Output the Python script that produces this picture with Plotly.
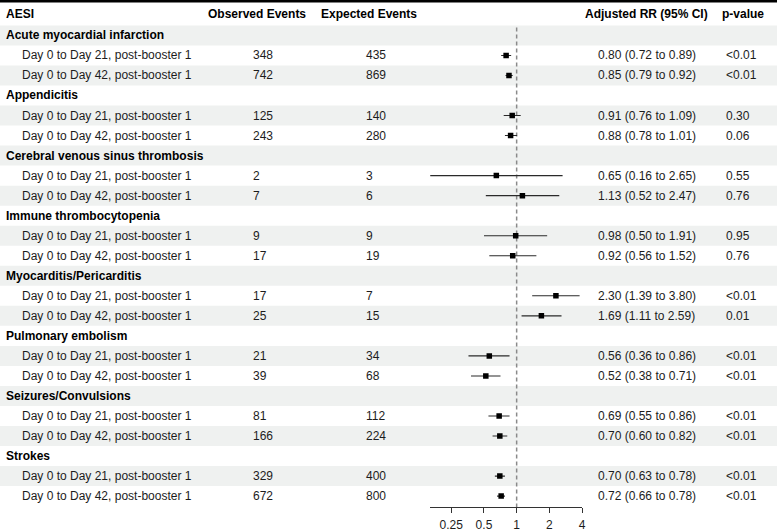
import plotly.graph_objects as go

groups = ["Acute myocardial infarction", "Appendicitis", "Cerebral venous sinus thrombosis",
          "Immune thrombocytopenia", "Myocarditis/Pericarditis", "Pulmonary embolism",
          "Seizures/Convulsions", "Strokes"]
periods = ["Day 0 to Day 21, post-booster 1", "Day 0 to Day 42, post-booster 1"]
observed = [348, 742, 125, 243, 2, 7, 9, 17, 17, 25, 21, 39, 81, 166, 329, 672]
expected = [435, 869, 140, 280, 3, 6, 9, 19, 7, 15, 34, 68, 112, 224, 400, 800]
rr = [0.80, 0.85, 0.91, 0.88, 0.65, 1.13, 0.98, 0.92, 2.30, 1.69, 0.56, 0.52, 0.69, 0.70, 0.70, 0.72]
lo = [0.72, 0.79, 0.76, 0.78, 0.16, 0.52, 0.50, 0.56, 1.39, 1.11, 0.36, 0.38, 0.55, 0.60, 0.63, 0.66]
hi = [0.89, 0.92, 1.09, 1.01, 2.65, 2.47, 1.91, 1.52, 3.80, 2.59, 0.86, 0.71, 0.86, 0.82, 0.78, 0.78]
pval = ["<0.01", "<0.01", "0.30", "0.06", "0.55", "0.76", "0.95", "0.76",
        "<0.01", "0.01", "<0.01", "<0.01", "<0.01", "<0.01", "<0.01", "<0.01"]
headers = ["AESI", "Observed Events", "Expected Events", "Adjusted RR (95% CI)", "p-value"]
tick_vals = [0.25, 0.5, 1, 2, 4]
tick_text = ["0.25", "0.5", "1", "2", "4"]

W, H = 783, 532
FONT = "Liberation Sans, Arial, sans-serif"
TXT = "#1c1c1c"
FS = 12

n_rows = len(groups) * 3
row_h = 20.26
row0 = 35.8
axis_px = 512.7
y_top = -row0 / row_h
y_bot = (axis_px - row0) / row_h
header_y = (14 - row0) / row_h

def px(x):
    return x / W

fig = go.Figure()

shapes = []
for i in range(n_rows):
    if i % 2 == 0:
        shapes.append(dict(type="rect", xref="paper", yref="y", x0=0, x1=px(781),
                           y0=i - 0.5, y1=i + 0.5, fillcolor="#eff1f0",
                           line=dict(width=0), layer="below"))
shapes.append(dict(type="line", xref="paper", yref="paper", x0=0, x1=px(781),
                   y0=1 - 1.3 / H, y1=1 - 1.3 / H, line=dict(color="#000", width=2.5)))

ann = []
col_hdr_x = [4, 207, 321, 586, 724]
for h, x in zip(headers, col_hdr_x):
    ann.append(dict(text="<b>%s</b>" % h, x=px(x), y=header_y, xref="paper", yref="y",
                    xanchor="left", yanchor="middle", showarrow=False,
                    font=dict(family=FONT, size=FS, color="#000")))

ys, seg_x, seg_y = [], [], []
k = 0
for g, name in enumerate(groups):
    gi = 3 * g
    ann.append(dict(text="<b>%s</b>" % name, x=px(4), y=gi, xref="paper", yref="y",
                    xanchor="left", yanchor="middle", showarrow=False,
                    font=dict(family=FONT, size=FS, color="#000")))
    for p, per in enumerate(periods):
        ri = gi + 1 + p
        ys.append(ri)
        vals = [(per, 20), (str(observed[k]), 252), (str(expected[k]), 366),
                ("%.2f (%.2f to %.2f)" % (rr[k], lo[k], hi[k]), 599), (pval[k], 728)]
        for t, x in vals:
            ann.append(dict(text=t, x=px(x), y=ri, xref="paper", yref="y",
                            xanchor="left", yanchor="middle", showarrow=False,
                            font=dict(family=FONT, size=FS, color=TXT)))
        seg_x += [lo[k], hi[k], None]
        seg_y += [ri, ri, None]
        k += 1

fig.add_trace(go.Scatter(x=[1, 1], y=[-0.39, y_bot], mode="lines",
                         line=dict(color="#8a8a8a", width=1.5, dash="4px,3px"),
                         hoverinfo="skip", showlegend=False))
fig.add_trace(go.Scatter(x=seg_x, y=seg_y, mode="lines",
                         line=dict(color="#2a2a2a", width=1.1),
                         hoverinfo="skip", showlegend=False))
fig.add_trace(go.Scatter(x=rr, y=ys, mode="markers",
                         marker=dict(symbol="square", size=5.5, color="#000"),
                         showlegend=False))

fig.update_layout(
    width=W, height=H, margin=dict(l=0, r=0, t=0, b=0),
    paper_bgcolor="white", plot_bgcolor="rgba(0,0,0,0)",
    shapes=shapes, annotations=ann, showlegend=False,
    xaxis=dict(type="log", domain=[px(432), px(585)], range=[-0.80, 0.6021],
               tickvals=tick_vals, ticktext=tick_text, showgrid=False, zeroline=False,
               showline=True, linecolor="#333", linewidth=1, ticks="outside",
               ticklen=5, tickcolor="#333", ticklabelstandoff=2,
               tickfont=dict(family=FONT, size=FS, color=TXT),
               fixedrange=True),
    yaxis=dict(domain=[1 - axis_px / H, 1], range=[y_bot, y_top], visible=False,
               fixedrange=True),
)

fig.write_html("out.html", config={"displayModeBar": False},
               post_script="document.body.style.margin='0';document.body.style.padding='0';")
